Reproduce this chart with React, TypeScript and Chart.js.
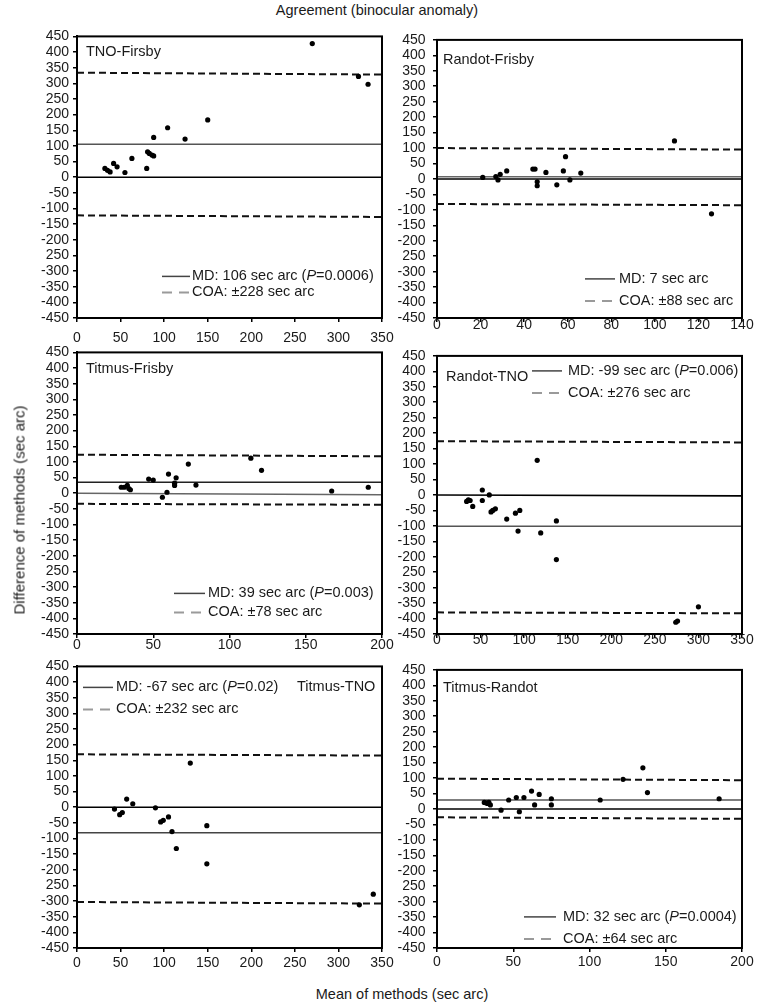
import React, { useEffect, useRef } from "react";
import { Chart, registerables } from "chart.js";

Chart.register(...registerables);

const FONT = "'Liberation Sans', Arial, Helvetica, sans-serif";

// ---------- tick values / labels ----------
const yTickValues = [-450, -400, -350, -300, -250, -200, -150, -100, -50, 0, 50, 100, 150, 200, 250, 300, 350, 400, 450];
const yTickLabels = ["-450", "-400", "-350", "-300", "250", "-200", "-150", "-100", "-50", "0", "50", "100", "150", "200", "250", "300", "350", "400", "450"];
const xTicks350 = [0, 50, 100, 150, 200, 250, 300, 350];
const xTicks140 = [0, 20, 40, 60, 80, 100, 120, 140];
const xTicks200 = [0, 50, 100, 150, 200];

// ---------- texts ----------
const figureTitle = "Agreement (binocular anomaly)";
const xAxisTitle = "Mean of methods (sec arc)";
const yAxisTitle = "Difference of methods (sec arc)";
const panelTitles = ["TNO-Firsby", "Randot-Frisby", "Titmus-Frisby", "Randot-TNO", "Titmus-TNO", "Titmus-Randot"];
const mdLabels = [
  "MD: 106 sec arc (P=0.0006)",
  "MD: 7 sec arc",
  "MD: 39 sec arc (P=0.003)",
  "MD: -99 sec arc (P=0.006)",
  "MD: -67 sec arc (P=0.02)",
  "MD: 32 sec arc (P=0.0004)",
];
const coaLabels = ["COA: ±228 sec arc", "COA: ±88 sec arc", "COA: ±78 sec arc", "COA: ±276 sec arc", "COA: ±232 sec arc", "COA: ±64 sec arc"];

// ---------- data: mean (x) and difference (y) ----------
const tnoFrisbyMean = [32, 35, 38, 42, 46, 55, 63, 80, 81, 83, 86, 88, 88, 104, 124, 150, 270, 323, 334];
const tnoFrisbyDiff = [28, 22, 17, 44, 33, 15, 60, 28, 81, 76, 71, 68, 127, 158, 122, 183, 427, 322, 297];

const randotFrisbyMean = [21, 27, 28, 29, 32, 44, 45, 46, 46, 50, 55, 58, 59, 61, 66, 109, 126];
const randotFrisbyDiff = [5, 8, -3, 15, 26, 32, 32, -9, -22, 21, -19, 26, 72, -3, 19, 123, -113];

const titmusFrisbyMean = [29, 31, 33, 34, 35, 47, 50, 56, 59, 60, 64, 64, 65, 73, 78, 114, 121, 167, 191];
const titmusFrisbyDiff = [19, 19, 25, 15, 11, 45, 42, -13, 3, 61, 25, 32, 49, 93, 26, 112, 73, 7, 19];

const randotTnoMean = [34, 36, 38, 41, 52, 52, 60, 62, 64, 67, 80, 90, 95, 93, 115, 119, 137, 137, 274, 276, 300];
const randotTnoDiff = [-21, -16, -18, -37, 16, -18, 0, -55, -50, -45, -78, -59, -50, -117, 112, -123, -84, -209, -412, -408, -362];

const titmusTnoMean = [43, 49, 52, 57, 64, 90, 96, 99, 105, 109, 114, 130, 149, 149, 324, 340];
const titmusTnoDiff = [-6, -24, -17, 26, 11, -2, -47, -42, -31, -78, -132, 141, -59, -181, -312, -278];

const titmusRandotMean = [31, 32, 33, 34, 35, 42, 47, 52, 54, 57, 62, 64, 67, 75, 75, 107, 122, 135, 138, 185];
const titmusRandotDiff = [21, 20, 18, 21, 13, -4, 29, 37, -9, 37, 58, 13, 47, 33, 13, 29, 96, 133, 53, 33];

// reference lines as drawn: [value at left edge, value at right edge]
const zeroLines = [[0, 0], [0, 0], [0, -5], [0, -3], [0, 0], [0, 0]];
const mdLines = [[105, 105], [7, 7], [35, 35], [-101, -101], [-82, -82], [29, 29]];
const coaUpper = [[334, 328], [100, 95], [123, 118], [174, 170], [169, 165], [98, 93]];
const coaLower = [[-122, -127], [-81, -85], [-34, -37], [-380, -383], [-303, -308], [-27, -32]];

const panelMeans = [tnoFrisbyMean, randotFrisbyMean, titmusFrisbyMean, randotTnoMean, titmusTnoMean, titmusRandotMean];
const panelDiffs = [tnoFrisbyDiff, randotFrisbyDiff, titmusFrisbyDiff, randotTnoDiff, titmusTnoDiff, titmusRandotDiff];
const panelXTicks = [xTicks350, xTicks140, xTicks200, xTicks350, xTicks350, xTicks200];

// ---------- layout ----------
const Y_AXIS_W = 70;
const PAD_TOP = 12;
const PAD_RIGHT = 15;
const X_AXIS_H = 35;
const PLOT_W = 305;
const PLOT_H = 282;
const CW = Y_AXIS_W + PLOT_W + PAD_RIGHT;
const CH = PAD_TOP + PLOT_H + X_AXIS_H;
const TICK_FONT = 14;

type Layout = {
  left: number;
  top: number;
  xPad: number;
  yPad: number;
  titleX: number;
  titleY: number;
  lineStart: number;
  lineEnd: number;
  textX: number;
  row1: number;
  row2: number;
  zeroColor: string;
  mdColor: string;
};

const layouts: Layout[] = [
  { left: 77, top: 36, xPad: 8, yPad: 4, titleX: 9, titleY: 16, lineStart: 85, lineEnd: 113, textX: 115, row1: 240, row2: 256, zeroColor: "#000", mdColor: "#555" },
  { left: 437, top: 36, xPad: -5, yPad: 7.5, titleX: 6, titleY: 20, lineStart: 148, lineEnd: 178, textX: 182, row1: 239, row2: 261, zeroColor: "#000", mdColor: "#666" },
  { left: 77, top: 352, xPad: -1, yPad: 4, titleX: 9, titleY: 17, lineStart: 97, lineEnd: 128, textX: 131, row1: 241, row2: 260, zeroColor: "#666", mdColor: "#222" },
  { left: 437, top: 352, xPad: -6, yPad: 7.5, titleX: 9, titleY: 21, lineStart: 95, lineEnd: 125, textX: 131, row1: 15, row2: 37, zeroColor: "#000", mdColor: "#555" },
  { left: 77, top: 666, xPad: 3, yPad: 4, titleX: 220, titleY: 21, lineStart: 6, lineEnd: 36, textX: 39, row1: 21, row2: 43, zeroColor: "#000", mdColor: "#444" },
  { left: 437, top: 666, xPad: 2, yPad: 7.5, titleX: 6, titleY: 18, lineStart: 87, lineEnd: 119, textX: 126, row1: 247, row2: 269, zeroColor: "#000", mdColor: "#555" },
];

const TEXT_COLOR = "#1a1a1a";

function drawLegendText(ctx: CanvasRenderingContext2D, s: string, x: number, y: number) {
  const base = `14.5px ${FONT}`;
  const ital = `italic 14.5px ${FONT}`;
  const idx = s.indexOf("(P=");
  ctx.font = base;
  if (idx < 0) {
    ctx.fillText(s, x, y);
    return;
  }
  const pre = s.slice(0, idx + 1);
  const post = s.slice(idx + 2);
  ctx.fillText(pre, x, y);
  let cx = x + ctx.measureText(pre).width;
  ctx.font = ital;
  ctx.fillText("P", cx, y);
  cx += ctx.measureText("P").width;
  ctx.font = base;
  ctx.fillText(post, cx, y);
}

const framePlugin = {
  id: "frame",
  afterDatasetsDraw(chart: any, _args: any, opts: any) {
    const { ctx, chartArea: a } = chart;
    const L: Layout = opts.layout;
    ctx.save();
    ctx.strokeStyle = "#000";
    ctx.lineWidth = 2;
    ctx.setLineDash([]);
    ctx.strokeRect(a.left, a.top, a.right - a.left, a.bottom - a.top);

    ctx.fillStyle = TEXT_COLOR;
    ctx.textBaseline = "middle";
    ctx.textAlign = "left";
    ctx.font = `14.5px ${FONT}`;
    ctx.fillText(opts.title, a.left + L.titleX, a.top + L.titleY);

    // MD sample
    ctx.strokeStyle = "#444";
    ctx.lineWidth = 1.5;
    ctx.beginPath();
    ctx.moveTo(a.left + L.lineStart, a.top + L.row1);
    ctx.lineTo(a.left + L.lineEnd, a.top + L.row1);
    ctx.stroke();
    // COA sample
    ctx.strokeStyle = "#9a9a9a";
    ctx.lineWidth = 2;
    ctx.setLineDash([10, 7]);
    ctx.beginPath();
    ctx.moveTo(a.left + L.lineStart, a.top + L.row2);
    ctx.lineTo(a.left + L.lineEnd, a.top + L.row2);
    ctx.stroke();
    ctx.setLineDash([]);

    ctx.fillStyle = TEXT_COLOR;
    drawLegendText(ctx, opts.md, a.left + L.textX, a.top + L.row1);
    drawLegendText(ctx, opts.coa, a.left + L.textX, a.top + L.row2);
    ctx.restore();
  },
};

function lineData(ends: number[], xMax: number) {
  return [
    { x: 0, y: ends[0] },
    { x: xMax, y: ends[1] },
  ];
}

function buildConfig(i: number): any {
  const L = layouts[i];
  const xs = panelMeans[i];
  const ys = panelDiffs[i];
  const xTicks = panelXTicks[i];
  const xMax = xTicks[xTicks.length - 1];
  const pts = xs.map((x, k) => ({ x, y: ys[k] }));
  const lineBase = { showLine: true, pointRadius: 0, fill: false, tension: 0 };
  return {
    type: "scatter",
    data: {
      datasets: [
        { data: pts, pointRadius: 2.6, pointBackgroundColor: "#000", pointBorderWidth: 0, showLine: false, order: 0 },
        { ...lineBase, data: lineData(zeroLines[i], xMax), borderColor: L.zeroColor, borderWidth: 1.6, order: 1 },
        { ...lineBase, data: lineData(mdLines[i], xMax), borderColor: L.mdColor, borderWidth: 1.5, order: 2 },
        { ...lineBase, data: lineData(coaUpper[i], xMax), borderColor: "#111", borderWidth: 2, borderDash: [7, 4], order: 3 },
        { ...lineBase, data: lineData(coaLower[i], xMax), borderColor: "#111", borderWidth: 2, borderDash: [7, 4], order: 4 },
      ],
    },
    options: {
      animation: false,
      responsive: false,
      maintainAspectRatio: false,
      events: [],
      layout: { padding: { top: PAD_TOP, right: PAD_RIGHT, left: 0, bottom: 0 } },
      plugins: {
        legend: { display: false },
        tooltip: { enabled: false },
        frame: { layout: L, title: panelTitles[i], md: mdLabels[i], coa: coaLabels[i] },
      },
      scales: {
        x: {
          type: "linear",
          min: 0,
          max: xMax,
          afterBuildTicks: (s: any) => {
            s.ticks = xTicks.map((v) => ({ value: v }));
          },
          afterFit: (s: any) => {
            s.height = X_AXIS_H;
            s.paddingLeft = 0;
            s.paddingRight = 0;
          },
          grid: { display: true, drawOnChartArea: false, drawTicks: true, tickLength: 4, color: "#000", lineWidth: 1.5 },
          border: { display: true, color: "#000", width: 2 },
          ticks: { autoSkip: false, maxRotation: 0, padding: L.xPad, color: TEXT_COLOR, font: { family: FONT, size: TICK_FONT } },
        },
        y: {
          type: "linear",
          min: -450,
          max: 450,
          afterBuildTicks: (s: any) => {
            s.ticks = yTickValues.map((v) => ({ value: v }));
          },
          afterFit: (s: any) => {
            s.width = Y_AXIS_W;
          },
          grid: { display: true, drawOnChartArea: false, drawTicks: true, tickLength: 4, color: "#000", lineWidth: 1.5 },
          border: { display: true, color: "#000", width: 2 },
          ticks: {
            autoSkip: false,
            padding: L.yPad,
            color: TEXT_COLOR,
            font: { family: FONT, size: TICK_FONT },
            callback: (v: any) => {
              const k = yTickValues.indexOf(Number(v));
              return k >= 0 ? yTickLabels[k] : "";
            },
          },
        },
      },
    },
    plugins: [framePlugin],
  };
}

function Panel({ index }: { index: number }) {
  const ref = useRef<HTMLCanvasElement>(null);
  useEffect(() => {
    if (!ref.current) return;
    const chart = new Chart(ref.current, buildConfig(index));
    return () => chart.destroy();
  }, [index]);
  const L = layouts[index];
  return (
    <canvas
      ref={ref}
      width={CW}
      height={CH}
      style={{ position: "absolute", left: L.left - Y_AXIS_W, top: L.top - PAD_TOP, width: CW, height: CH }}
    />
  );
}

export default function App() {
  const textStyle: React.CSSProperties = {
    position: "absolute",
    fontFamily: FONT,
    color: TEXT_COLOR,
    whiteSpace: "nowrap",
    lineHeight: 1,
  };
  return (
    <div style={{ position: "absolute", left: 0, top: 0, width: 760, height: 1007, background: "#fff", overflow: "hidden" }}>
      {[0, 1, 2, 3, 4, 5].map((i) => (
        <Panel key={i} index={i} />
      ))}
      <div style={{ ...textStyle, fontSize: 14.5, left: 377, top: 10, transform: "translate(-50%, -50%)" }}>{figureTitle}</div>
      <div style={{ ...textStyle, fontSize: 14.5, left: 402, top: 994, transform: "translate(-50%, -50%)" }}>{xAxisTitle}</div>
      <div style={{ ...textStyle, fontSize: 15, left: 19, top: 510, transform: "translate(-50%, -50%) rotate(-90deg)" }}>{yAxisTitle}</div>
    </div>
  );
}
